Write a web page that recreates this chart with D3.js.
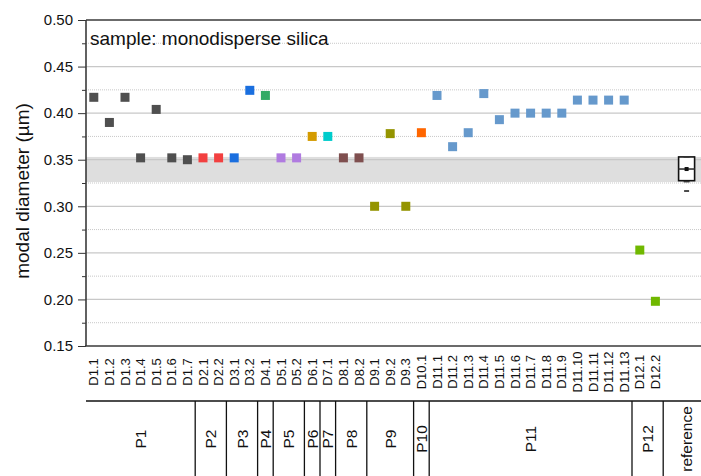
<!DOCTYPE html>
<html><head><meta charset="utf-8">
<script src="https://cdn.jsdelivr.net/npm/d3@7"></script>
<style>
body{margin:0;background:#fff;}
svg text{font-family:"Liberation Sans",Arial,sans-serif;fill:#111;}
</style></head>
<body><svg id="c" width="701" height="476"></svg>
<script>
const categories = ["D1.1","D1.2","D1.3","D1.4","D1.5","D1.6","D1.7","D2.1","D2.2","D3.1","D3.2","D4.1","D5.1","D5.2","D6.1","D7.1","D8.1","D8.2","D9.1","D9.2","D9.3","D10.1","D11.1","D11.2","D11.3","D11.4","D11.5","D11.6","D11.7","D11.8","D11.9","D11.10","D11.11","D11.12","D11.13","D12.1","D12.2"];
const values = [0.417,0.390,0.417,0.352,0.404,0.352,0.350,0.352,0.352,0.352,0.4245,0.419,0.352,0.352,0.375,0.375,0.352,0.352,0.300,0.378,0.300,0.379,0.419,0.364,0.379,0.421,0.393,0.400,0.400,0.400,0.400,0.414,0.414,0.414,0.414,0.253,0.198];
const groupNames = ["P1","P2","P3","P4","P5","P6","P7","P8","P9","P10","P11","P12","reference"];
const groupSizes = [7,2,2,1,2,1,1,2,3,1,13,2,3];
const groupColors = ["#4f4f4f","#f24040","#1a6fdf","#33aa66","#b07be0","#d49b00","#00cccc","#7f4f4f","#949400","#ff6600","#6699cc","#70b800","#222222"];
const yTicks = [0.15,0.20,0.25,0.30,0.35,0.40,0.45,0.50];
const yMinor = [0.175,0.225,0.275,0.325,0.375,0.425,0.475];
const refBand = [0.326,0.353];
const refBox = {q1:0.3275, q3:0.353, median:0.340, mean:0.340, min:0.3275, max:0.353, outlier:0.3164};

const svg = d3.select("#c");
const L = 86, T = 20, B = 346;
const slots = d3.range(40);
const x = d3.scaleBand().domain(slots).range([L, L + 40*15.6]).padding(0);
const y = d3.scaleLinear().domain([0.15,0.50]).range([B,T]);

const catGroup = [];
groupSizes.forEach((n,g)=>{ for(let i=0;i<n;i++) catGroup.push(g); });
const refSlot = 38;

// band
svg.append("rect").attr("x",L).attr("width",701-L)
  .attr("y",y(refBand[1])).attr("height",y(refBand[0])-y(refBand[1]))
  .attr("fill","#dedede");

// gridlines
svg.append("g").selectAll("line").data(yTicks.slice(1,-1)).join("line")
  .attr("x1",L).attr("x2",701).attr("y1",d=>y(d)).attr("y2",d=>y(d))
  .attr("stroke","#c8c8c8").attr("stroke-width",1.2);
svg.append("g").selectAll("line").data(yMinor).join("line")
  .attr("x1",L).attr("x2",701).attr("y1",d=>y(d)).attr("y2",d=>y(d))
  .attr("stroke","#c8c8c8").attr("stroke-width",1).attr("stroke-dasharray","1,1");

// y axis
const yAxis = d3.axisLeft(y).tickValues(yTicks).tickFormat(d3.format(".2f")).tickSize(8).tickPadding(5);
const ya = svg.append("g").attr("transform",`translate(${L},0)`).call(yAxis);
ya.select(".domain").remove();
ya.selectAll("line").attr("stroke","#333");
ya.selectAll("text").style("font-size","15px").style("font-family","Liberation Sans, Arial, sans-serif").attr("fill","#111");
const yAxisMinor = d3.axisLeft(y).tickValues(yMinor).tickFormat("").tickSize(4);
const ym = svg.append("g").attr("transform",`translate(${L},0)`).call(yAxisMinor);
ym.select(".domain").remove();
ym.selectAll("line").attr("stroke","#333");

// frame lines
svg.append("line").attr("x1",L).attr("x2",L).attr("y1",T).attr("y2",B).attr("stroke","#3a3a3a").attr("stroke-width",1.6);
svg.append("line").attr("x1",L).attr("x2",701).attr("y1",T).attr("y2",T).attr("stroke","#3a3a3a").attr("stroke-width",1.6);
svg.append("line").attr("x1",L-1).attr("x2",701).attr("y1",B).attr("y2",B).attr("stroke","#3a3a3a").attr("stroke-width",1.6);

// x tick labels
const bw = x.bandwidth();
svg.append("g").selectAll("text").data(categories).join("text")
  .attr("transform",(d,i)=>`translate(${x(i)+bw/2+4.5},372) rotate(-90)`)
  .attr("text-anchor","middle").style("font-size","13px").text(d=>d);

// points
svg.append("g").selectAll("rect").data(values).join("rect")
  .attr("x",(d,i)=>x(i)+bw/2-4.5).attr("y",d=>y(d)-4.5)
  .attr("width",9).attr("height",9)
  .attr("fill",(d,i)=>groupColors[catGroup[i]]);

// reference box plot
const rc = x(refSlot)+bw/2;
const bx = svg.append("g");
bx.append("rect").attr("x",rc-8).attr("width",16).attr("y",y(refBox.q3)).attr("height",y(refBox.q1)-y(refBox.q3))
  .attr("fill","#fff").attr("stroke","#111").attr("stroke-width",1.6);
bx.append("line").attr("x1",rc-8).attr("x2",rc+8).attr("y1",y(refBox.median)).attr("y2",y(refBox.median)).attr("stroke","#333").attr("stroke-width",1.6);
bx.append("rect").attr("x",rc-2).attr("y",y(refBox.mean)-2).attr("width",4).attr("height",4).attr("fill","#111");
bx.append("line").attr("x1",rc-3).attr("x2",rc+3).attr("y1",y(refBox.max)).attr("y2",y(refBox.max)).attr("stroke","#333").attr("stroke-width",1.5);
bx.append("line").attr("x1",rc-3).attr("x2",rc+3).attr("y1",y(refBox.min)+1).attr("y2",y(refBox.min)+1).attr("stroke","#333").attr("stroke-width",1.5);
bx.append("line").attr("x1",rc-2.5).attr("x2",rc+2.5).attr("y1",y(refBox.outlier)).attr("y2",y(refBox.outlier)).attr("stroke","#111").attr("stroke-width",1.5);

// group labels
const gy = 401;
svg.append("line").attr("x1",L).attr("x2",701).attr("y1",gy).attr("y2",gy).attr("stroke","#111").attr("stroke-width",1.3);
let start = 0;
const gdata = groupSizes.map((n,g)=>{ const o={name:groupNames[g], s:start, e:start+n}; start+=n; return o; });
const gg = svg.append("g");
gdata.forEach((g,k)=>{
  if(k<gdata.length-1){
    const xe = x(g.e);
    gg.append("line").attr("x1",xe).attr("x2",xe).attr("y1",gy).attr("y2",476).attr("stroke","#111").attr("stroke-width",1.3);
  }
  const xs = x(g.s), xe = g.e<40 ? x(g.e) : x(39)+bw;
  gg.append("text").attr("transform",`translate(${(xs+xe)/2+5.5},439) rotate(-90)`)
    .attr("text-anchor","middle").style("font-size","15.5px").text(g.name);
});

// annotations
svg.append("text").attr("x",90).attr("y",45).style("font-size","19px").text("sample: monodisperse silica");
svg.append("text").attr("transform","translate(29,191) rotate(-90)").attr("text-anchor","middle")
  .style("font-size","19px").text("modal diameter (µm)");
</script></body></html>
